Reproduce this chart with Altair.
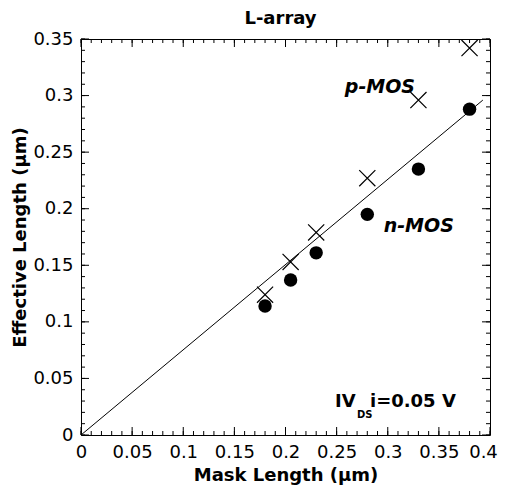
import altair as alt
import pandas as pd

# ---- data ----
mask = [0.18, 0.205, 0.23, 0.28, 0.33, 0.38]
nmos = [0.114, 0.137, 0.161, 0.195, 0.235, 0.288]
pmos = [0.124, 0.153, 0.179, 0.227, 0.296, 0.342]
fit_x = [0.0, 0.393]
fit_y = [0.0, 0.296]

x_major = [0, 0.05, 0.1, 0.15, 0.2, 0.25, 0.3, 0.35, 0.4]
y_major = [0, 0.05, 0.1, 0.15, 0.2, 0.25, 0.3, 0.35]
x_minor = [i / 100 for i in range(41)]
y_minor = [i / 100 for i in range(36)]

title_text = ["L-array"]

ann_text = ["p-MOS", "n-MOS"]
ann_x = [0.258, 0.296]
ann_y = [0.302, 0.179]

vds_text = ["IV", "i=0.05 V"]
vds_x = [0.2484, 0.2826]
vds_y = [0.0247, 0.0247]
sub_text = ["DS"]
sub_x = [0.2699]
sub_y = [0.015]

W, H = 409, 396
FONT = "DejaVu Sans"

xs = alt.Scale(domain=[0, 0.4], nice=False, zero=False)
ys = alt.Scale(domain=[0, 0.35], nice=False, zero=False)

X_AXIS = alt.Axis(values=x_major, format="~g", ticks=False, labelPadding=8, labelFlush=False,
                  labelOffset={"condition": {"test": "datum.value >= 0.4", "value": -7}, "value": 0},
                  labelOverlap=False, title="Mask Length (μm)", titlePadding=5,
                  domain=False, grid=False)
Y_AXIS = alt.Axis(values=y_major, format="~g", ticks=False, labelPadding=8, labelFlush=False,
                  labelOverlap=False, title="Effective Length (μm)", titlePadding=3,
                  domain=False, grid=False)


def xe(field):
    return alt.X(field, type="quantitative", scale=xs, axis=X_AXIS)


def ye(field):
    return alt.Y(field, type="quantitative", scale=ys, axis=Y_AXIS)


fit_df = pd.DataFrame({"x": fit_x, "y": fit_y})
pts = pd.DataFrame({"x": mask, "n": nmos, "p": pmos})

fit = alt.Chart(fit_df).mark_line(color="black", strokeWidth=1).encode(x=xe("x"), y=ye("y"))

circles = alt.Chart(pts).mark_point(shape="circle", filled=True, color="black", size=180,
                                    opacity=1).encode(x=xe("x"), y=ye("n"))

crosses = alt.Chart(pts).mark_point(shape="M-1,-1L1,1M-1,1L1,-1", filled=False, color="black",
                                    strokeWidth=1.2, size=260, opacity=1).encode(x=xe("x"), y=ye("p"))


def ticks_x(vals, y0, y1):
    return alt.Chart(pd.DataFrame({"x": vals})).mark_rule(color="black", strokeWidth=1).encode(
        x=xe("x"), y=alt.value(y0), y2=alt.value(y1))


def ticks_y(vals, x0, x1):
    return alt.Chart(pd.DataFrame({"y": vals})).mark_rule(color="black", strokeWidth=1).encode(
        y=ye("y"), x=alt.value(x0), x2=alt.value(x1))


tick_layers = [
    ticks_x(x_major, H, H - 8), ticks_x(x_minor, H, H - 4),
    ticks_x(x_major, 0, 8), ticks_x(x_minor, 0, 4),
    ticks_y(y_major, 0, 8), ticks_y(y_minor, 0, 4),
    ticks_y(y_major, W, W - 8), ticks_y(y_minor, W, W - 4),
]

title = alt.Chart(pd.DataFrame({"t": title_text})).mark_text(
    font=FONT, fontSize=18, fontWeight="bold", align="center", baseline="alphabetic",
    color="black").encode(x=alt.value(W / 2 - 5), y=alt.value(-15), text="t:N")

ann = alt.Chart(pd.DataFrame({"x": ann_x, "y": ann_y, "t": ann_text})).mark_text(
    font=FONT, fontSize=19, fontWeight="bold", fontStyle="italic", align="left",
    baseline="alphabetic", color="black").encode(x=xe("x"), y=ye("y"), text="t:N")

vds = alt.Chart(pd.DataFrame({"x": vds_x, "y": vds_y, "t": vds_text})).mark_text(
    font=FONT, fontSize=18, fontWeight="bold", align="left", baseline="alphabetic",
    color="black").encode(x=xe("x"), y=ye("y"), text="t:N")

sub = alt.Chart(pd.DataFrame({"x": sub_x, "y": sub_y, "t": sub_text})).mark_text(
    font=FONT, fontSize=10, fontWeight="bold", align="left", baseline="alphabetic",
    color="black").encode(x=xe("x"), y=ye("y"), text="t:N")

chart = alt.layer(fit, *tick_layers, crosses, circles, ann, vds, sub, title).properties(
    width=W, height=H,
    autosize=alt.AutoSizeParams(type="none"),
    padding={"left": 73, "top": 31, "right": 10, "bottom": 50},
).configure_view(stroke="black", strokeWidth=1).configure_axis(
    labelFont=FONT, labelFontSize=18, labelColor="black",
    titleFont=FONT, titleFontSize=18, titleFontWeight="bold", titleColor="black",
)

chart.save("out.html", embed_options={"renderer": "svg", "actions": False})
